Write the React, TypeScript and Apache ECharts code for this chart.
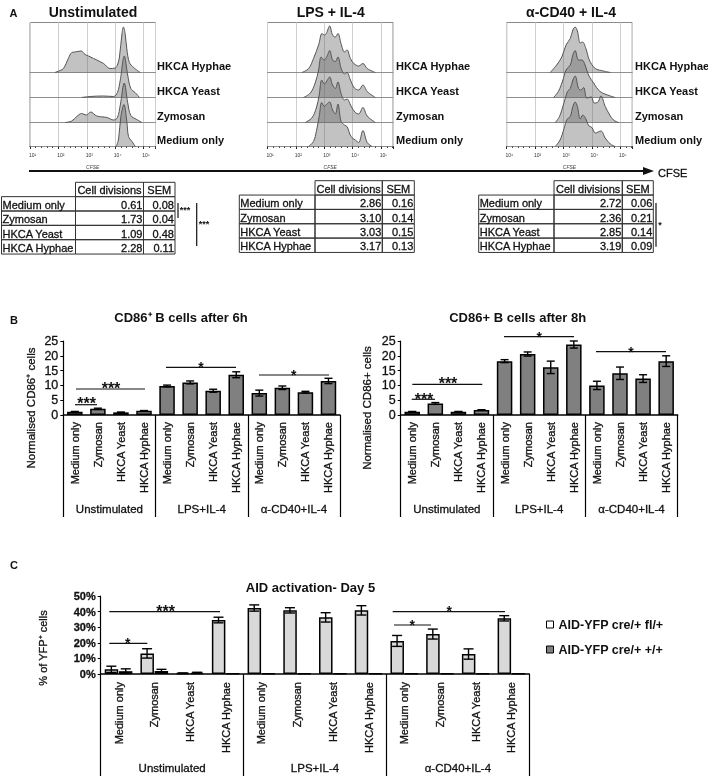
import React, { useEffect, useRef } from "react";
import * as echarts from "echarts";

const FONT = '"Liberation Sans", Arial, sans-serif';

// ---------- Panel A : CFSE histograms, [log10 CFSE, % of max] ----------
const rowNames = ["HKCA Hyphae", "HKCA Yeast", "Zymosan", "Medium only"];
const decadeLabels: Record<number, string> = { 1: "10¹", 2: "10²", 3: "10³", 4: "10⁴", 5: "10⁵" };

const unstimHyphae = [[1.88,0],[2.06,4],[2.18,8],[2.35,28],[2.47,40],[2.59,41],[2.8,43],[2.94,36],[3.06,33],[3.24,28],[3.35,25],[3.59,18],[3.82,8],[4,9],[4.08,15],[4.15,31],[4.24,78],[4.29,91],[4.35,78],[4.41,47],[4.5,20],[4.65,10],[4.88,0]];
const unstimYeast = [[2.82,0],[3.12,2],[3.59,3],[3.94,2],[4.08,10],[4.18,35],[4.32,83],[4.44,45],[4.55,18],[4.7,10],[4.86,0]];
const unstimZymosan = [[2.24,0],[2.47,3],[2.65,12],[2.82,18],[2.98,15],[3.14,21],[3.35,13],[3.71,10],[3.94,5],[4.08,10],[4.18,35],[4.32,79],[4.44,40],[4.55,14],[4.76,6],[4.94,0]];
const unstimMedium = [[4.04,0],[4.12,15],[4.2,60],[4.31,84],[4.41,50],[4.47,20],[4.59,10],[4.71,0]];

const lpsHyphae = [[2.21,0],[2.45,8],[2.62,28],[2.8,55],[2.92,78],[3,75],[3.07,78],[3.19,93],[3.29,75],[3.39,71],[3.48,78],[3.59,58],[3.71,41],[3.8,45],[3.92,28],[4.04,18],[4.21,13],[4.36,18],[4.51,8],[4.8,0]];
const lpsYeast = [[2.27,0],[2.51,9],[2.68,29],[2.8,55],[2.89,81],[3,75],[3.09,82],[3.19,94],[3.29,75],[3.39,72],[3.48,81],[3.59,59],[3.71,47],[3.8,50],[3.92,35],[4.06,19],[4.21,15],[4.36,25],[4.51,12],[4.8,0]];
const lpsZymosan = [[2.33,0],[2.56,9],[2.72,29],[2.82,55],[2.91,85],[3,77],[3.09,83],[3.19,91],[3.29,75],[3.39,68],[3.48,81],[3.59,58],[3.71,45],[3.8,47],[3.94,33],[4.09,20],[4.21,17],[4.36,30],[4.51,13],[4.8,0]];
const lpsMedium = [[2.45,0],[2.62,10],[2.72,30],[2.82,60],[2.91,88],[3,80],[3.09,85],[3.19,89],[3.29,73],[3.39,65],[3.48,85],[3.59,50],[3.71,43],[3.8,40],[3.94,20],[4.09,13],[4.21,8],[4.36,32],[4.51,8],[4.68,0]];

const cd40Hyphae = [[2.53,0],[2.76,15],[2.94,31],[3.09,55],[3.24,68],[3.33,85],[3.41,91],[3.49,83],[3.59,59],[3.67,61],[3.79,48],[3.91,25],[4.12,8],[4.41,3],[4.65,0]];
const cd40Yeast = [[2.65,0],[2.82,12],[2.98,35],[3.09,55],[3.24,65],[3.33,85],[3.41,94],[3.53,75],[3.65,75],[3.76,65],[3.88,45],[4.06,29],[4.29,12],[4.65,3],[4.82,0]];
const cd40Zymosan = [[2.71,0],[2.86,12],[3.02,40],[3.14,62],[3.24,68],[3.33,85],[3.41,93],[3.53,68],[3.61,65],[3.71,70],[3.82,49],[3.98,51],[4.08,39],[4.2,40],[4.32,53],[4.47,32],[4.63,15],[4.76,5],[4.94,0]];
const cd40Medium = [[2.71,0],[2.88,13],[3.02,36],[3.12,54],[3.24,60],[3.33,80],[3.41,89],[3.49,80],[3.59,55],[3.68,63],[3.79,55],[3.88,42],[4,38],[4.12,27],[4.32,31],[4.47,17],[4.65,5],[4.82,0]];

// ---------- Panel A : tables ----------
const tableHeader = ["Cell divisions", "SEM"];
const unstimDivisions = ["0.61", "1.73", "1.09", "2.28"];
const unstimSem = ["0.08", "0.04", "0.48", "0.11"];
const lpsDivisions = ["2.86", "3.10", "3.03", "3.17"];
const lpsSem = ["0.16", "0.14", "0.15", "0.13"];
const cd40Divisions = ["2.72", "2.36", "2.85", "3.19"];
const cd40Sem = ["0.06", "0.21", "0.14", "0.09"];
const tableRows = ["Medium only", "Zymosan", "HKCA Yeast", "HKCA Hyphae"];

// ---------- Panels B, C : bars ----------
const stimuli = ["Medium only", "Zymosan", "HKCA Yeast", "HKCA Hyphae"];
const categories = [...stimuli, ...stimuli, ...stimuli];
const groups = ["Unstimulated", "LPS+IL-4", "α-CD40+IL-4"];

const cd86h6 = [1.1, 2.1, 0.9, 1.4, 9.8, 11, 8.2, 13.6, 7.4, 9.2, 7.7, 11.5];
const cd86h6Err = [0.1, 0.2, 0.1, 0.1, 0.3, 0.5, 0.5, 1.0, 1.0, 0.6, 0.3, 0.9];
const cd86h8 = [1.1, 3.9, 1.1, 1.7, 18.2, 20.6, 16.1, 23.8, 10, 14.1, 12.3, 18.2];
const cd86h8Err = [0.1, 0.3, 0.1, 0.1, 0.5, 0.7, 2.1, 1.2, 1.4, 2.1, 1.3, 1.8];

const aidFl = [3, 13.2, 0.5, 34.6, 42.3, 40.8, 36.3, 40.8, 21.2, 25.6, 12.8, 35.7];
const aidFlErr = [2, 3, 0.2, 1.8, 2, 1.7, 3, 3, 3.5, 3.2, 3.3, 1.7];
const aidWt = [1.8, 2, 0.8, 0.2, 0.3, 0.3, 0.3, 0.3, 0.3, 0.3, 0.3, 0.3];
const aidWtErr = [1.5, 1, 0.3, 0, 0, 0, 0, 0, 0, 0, 0, 0];
const legendNames = ["AID-YFP cre/+ fl/+", "AID-YFP cre/+ +/+"];

export default function App() {
  const ref = useRef<HTMLDivElement>(null);

  useEffect(() => {
    document.body.style.margin = "0";
    const chart = echarts.init(ref.current!, null, { renderer: "svg" });

    const grid: any[] = [];
    const xAxis: any[] = [];
    const yAxis: any[] = [];
    const series: any[] = [];
    const graphic: any[] = [];
    const title: any[] = [];

    const text = (x: number, y: number, t: string, size: number, opts: any = {}) =>
      graphic.push({
        type: "text",
        x,
        y,
        rotation: opts.rotation || 0,
        silent: true,
        z: 20,
        style: {
          text: t,
          fill: opts.fill || "#111",
          stroke: opts.fill || "#111",
          lineWidth: opts.stroke ?? 0.3,
          align: opts.align || "left",
          verticalAlign: "middle",
          font: `${opts.style || "normal"} ${opts.weight || "normal"} ${size}px ${FONT}`,
        },
      });
    const line = (x1: number, y1: number, x2: number, y2: number, w = 1.2, c = "#111") =>
      graphic.push({
        type: "line",
        silent: true,
        z: 20,
        shape: { x1, y1, x2, y2 },
        style: { stroke: c, lineWidth: w },
      });
    const sig = (x0: number, x1: number, y: number, cx: number, cy: number, stars: string) => {
      line(x0, y, x1, y, 1.2);
      text(cx, cy, stars, stars.length > 1 ? 16 : 14, { align: "center", weight: "bold", stroke: 0 });
    };

    // ---- histogram panels ----
    const XMIN = 1, XMAX = 5.42, W = 125.5, TOP = 22.5, RH = 50;
    const baselines = [72.5, 97.5, 122.5, 146.5];
    const addHist = (left: number, rows: number[][][], cx: number, name: string, labelX: number) => {
      title.push({
        text: name,
        left: cx,
        top: 5,
        padding: 0,
        textAlign: "center",
        textStyle: { fontFamily: FONT, fontSize: 14, fontWeight: "bold", color: "#111" },
      });
      // frame
      const fi = grid.length;
      grid.push({ left, top: TOP, width: W, height: baselines[3] - TOP, show: true, borderColor: "#8a8a8a", borderWidth: 1, backgroundColor: "transparent" });
      xAxis.push({
        type: "value", gridIndex: fi, min: XMIN, max: XMAX, interval: 1, name: "CFSE", nameLocation: "middle", nameGap: 18,
        nameTextStyle: { fontFamily: FONT, fontSize: 5, fontStyle: "italic", color: "#444" },
        axisLine: { show: true, lineStyle: { color: "#222", width: 1 } },
        axisTick: { show: true, length: 2.5, lineStyle: { color: "#222" } },
        minorTick: { show: true, splitNumber: 5, length: 1.5, lineStyle: { color: "#444" } },
        splitLine: { show: true, lineStyle: { color: "#cfcfcf", width: 1 } },
        axisLabel: {
          fontFamily: FONT, fontSize: 5, color: "#333", margin: 6, padding: [0, 0, 0, 5], hideOverlap: false,
          formatter: (v: number) => decadeLabels[v] || "",
        },
      });
      yAxis.push({ type: "value", gridIndex: fi, min: 0, max: 1, show: false });
      // rows
      rows.forEach((data, r) => {
        const gi = grid.length;
        grid.push({ left, top: baselines[r] - RH, width: W, height: RH });
        xAxis.push({
          type: "value", gridIndex: gi, min: XMIN, max: XMAX, interval: 1,
          axisLine: { show: true, onZero: false, lineStyle: { color: "#8f8f8f", width: 1 } },
          axisTick: { show: false }, axisLabel: { show: false }, splitLine: { show: false },
        });
        yAxis.push({ type: "value", gridIndex: gi, min: 0, max: 100, show: false });
        series.push({
          type: "line", xAxisIndex: gi, yAxisIndex: gi, data, smooth: 0.35, showSymbol: false, symbol: "none",
          z: 3 + r,
          lineStyle: { color: "#555", width: 1 },
          areaStyle: { color: "rgba(96,96,96,0.55)" },
        });
        text(labelX, baselines[r] - 7, rowNames[r], 11, { weight: "bold", stroke: 0 });
      });
    };
    addHist(30, [unstimHyphae, unstimYeast, unstimZymosan, unstimMedium], 93, "Unstimulated", 157);
    addHist(267.5, [lpsHyphae, lpsYeast, lpsZymosan, lpsMedium], 330.7, "LPS + IL-4", 396);
    addHist(506.7, [cd40Hyphae, cd40Yeast, cd40Zymosan, cd40Medium], 571, "α-CD40 + IL-4", 635);

    // ---- arrow ----
    line(29, 171, 645, 171, 1.8, "#111");
    graphic.push({ type: "polygon", silent: true, shape: { points: [[643, 167], [654, 171], [643, 175]] }, style: { fill: "#111" } });
    text(658, 173, "CFSE", 11);

    // ---- tables ----
    const addTable = (cols: number[], y0: number, div: string[], sem: string[]) => {
      const rh = 14.35;
      const cell = (x: number, y: number, w: number) =>
        graphic.push({ type: "rect", silent: true, z: 15, shape: { x, y, width: w, height: rh }, style: { fill: "none", stroke: "#333", lineWidth: 1 } });
      cell(cols[1], y0, cols[2] - cols[1]);
      cell(cols[2], y0, cols[3] - cols[2]);
      text((cols[1] + cols[2]) / 2, y0 + rh / 2 + 1, tableHeader[0], 11, { align: "center" });
      text((cols[2] + cols[3]) / 2, y0 + rh / 2 + 1, tableHeader[1], 11, { align: "center" });
      tableRows.forEach((name, i) => {
        const y = y0 + rh * (i + 1);
        cell(cols[0], y, cols[1] - cols[0]);
        cell(cols[1], y, cols[2] - cols[1]);
        cell(cols[2], y, cols[3] - cols[2]);
        text(cols[0] + 1, y + rh / 2 + 1, name, 11);
        text(cols[2] - 1, y + rh / 2 + 1, div[i], 11, { align: "right" });
        text(cols[3] - 1, y + rh / 2 + 1, sem[i], 11, { align: "right" });
      });
    };
    addTable([1.5, 75.5, 143.5, 175], 182.3, unstimDivisions, unstimSem);
    addTable([239.3, 315, 382.3, 414.3], 180.7, lpsDivisions, lpsSem);
    addTable([478.7, 554, 622.3, 653.3], 180.7, cd40Divisions, cd40Sem);

    line(178, 203, 178, 218);
    text(185, 210, "***", 9, { align: "center", weight: "bold", stroke: 0 });
    line(196.7, 203, 196.7, 246);
    text(204, 224, "***", 9, { align: "center", weight: "bold", stroke: 0 });
    line(656, 203, 656, 246.7);
    text(660, 224.5, "*", 9, { align: "center", weight: "bold", stroke: 0 });

    // ---- bar panels ----
    const axisText = { fontFamily: FONT, color: "#111", textBorderColor: "#111", textBorderWidth: 0.3 };
    const errorSeries = (gi: number, vals: number[], errs: number[], cap: number, offset: number) => ({
      type: "custom",
      xAxisIndex: gi,
      yAxisIndex: gi,
      z: 10,
      silent: true,
      encode: { x: 0, y: 1 },
      data: vals.map((v, i) => [i, v, errs[i]]),
      renderItem: (_: any, api: any) => {
        const e = api.value(2);
        if (!e) return { type: "group", children: [] };
        const hi = api.coord([api.value(0), api.value(1) + e]);
        const lo = api.coord([api.value(0), api.value(1) - e]);
        const x = hi[0] + offset;
        const st = { stroke: "#000", lineWidth: 1.4 };
        return {
          type: "group",
          children: [
            { type: "line", shape: { x1: x, y1: hi[1], x2: x, y2: lo[1] }, style: st },
            { type: "line", shape: { x1: x - cap, y1: hi[1], x2: x + cap, y2: hi[1] }, style: st },
            { type: "line", shape: { x1: x - cap, y1: lo[1], x2: x + cap, y2: lo[1] }, style: st },
          ],
        };
      },
    });

    const addBarGrid = (left: number, right: number, top: number, bottom: number, tail: number, yMax: number, interval: number, pct: boolean, labelMargin: number, groupMargin: number, tickSize: number) => {
      const gi = grid.length;
      grid.push({ left, top, width: right - left, height: bottom - top });
      xAxis.push({
        type: "category", gridIndex: gi, data: categories,
        axisLine: { show: true, onZero: false, lineStyle: { color: "#000", width: 1.5 } },
        axisTick: { show: false },
        axisLabel: { ...axisText, fontSize: 11, rotate: 90, interval: 0, margin: labelMargin, hideOverlap: false },
        splitLine: { show: false },
      });
      yAxis.push({
        type: "value", gridIndex: gi, min: 0, max: yMax, interval,
        axisLine: { show: true, lineStyle: { color: "#000", width: 1.2 } },
        axisTick: { show: true, length: 3, lineStyle: { color: "#000", width: 1 } },
        axisLabel: { ...axisText, fontSize: tickSize, margin: 5, fontWeight: pct ? "bold" : "normal", formatter: pct ? "{value}%" : "{value}" },
        splitLine: { show: false },
      });
      // group axis (second x axis)
      xAxis.push({
        type: "category", gridIndex: gi, data: groups, position: "bottom",
        axisLine: { show: false },
        axisTick: { show: true, length: tail, lineStyle: { color: "#000", width: 1.2 } },
        axisLabel: { ...axisText, fontSize: 11.5, interval: 0, margin: groupMargin, hideOverlap: false },
        splitLine: { show: false },
      });
      // every x axis has a y partner so that indices stay aligned
      yAxis.push({ type: "value", gridIndex: gi, min: 0, max: yMax, show: false });
    };

    const titleStyle = { fontFamily: FONT, fontSize: 13, fontWeight: "bold", color: "#111" };

    addBarGrid(63.3, 340, 341, 415, 102, 25, 5, false, 7, 88, 12.5);
    series.push({
      type: "bar", xAxisIndex: xAxis.length - 2, yAxisIndex: xAxis.length - 2, data: cd86h6, barWidth: 15.5,
      itemStyle: { color: "#808080", borderColor: "#000", borderWidth: 1.5 },
    });
    series.push(errorSeries(xAxis.length - 2, cd86h6, cd86h6Err, 4, 0));
    title.push({ text: "CD86⁺ B cells after 6h", left: 181, top: 310.5, padding: 0, textAlign: "center", textStyle: titleStyle });
    text(30.7, 408, "Normalised CD86⁺ cells", 11.5, { rotation: Math.PI / 2, align: "center" });
    sig(76, 145, 389, 111, 388, "***");
    sig(75, 97, 404.7, 86.7, 403.5, "***");
    sig(166, 236, 367.3, 201, 367, "*");
    sig(259, 329, 375, 293.7, 375, "*");

    addBarGrid(400.7, 677.7, 341, 415, 102, 25, 5, false, 7, 88, 12.5);
    series.push({
      type: "bar", xAxisIndex: xAxis.length - 2, yAxisIndex: xAxis.length - 2, data: cd86h8, barWidth: 15.5,
      itemStyle: { color: "#808080", borderColor: "#000", borderWidth: 1.5 },
    });
    series.push(errorSeries(xAxis.length - 2, cd86h8, cd86h8Err, 4, 0));
    title.push({ text: "CD86+ B cells after 8h", left: 517.7, top: 310.5, padding: 0, textAlign: "center", textStyle: titleStyle });
    text(367.3, 408, "Normalised CD86+ cells", 11.5, { rotation: Math.PI / 2, align: "center" });
    sig(412.3, 482.3, 384.3, 448, 383.5, "***");
    sig(411.7, 435, 399.3, 424, 399, "***");
    sig(504, 574, 336.7, 539.3, 336.5, "*");
    sig(596, 666, 351.7, 631, 351.5, "*");

    addBarGrid(100.7, 529.3, 596, 674, 102, 50, 10, true, 8, 88, 11);
    const ci = xAxis.length - 2;
    series.push({
      name: legendNames[0], type: "bar", xAxisIndex: ci, yAxisIndex: ci, data: aidFl, barWidth: 13.5, barGap: "5%",
      itemStyle: { color: "#d9d9d9", borderColor: "#000", borderWidth: 1.5 },
    });
    series.push({
      name: legendNames[1], type: "bar", xAxisIndex: ci, yAxisIndex: ci, data: aidWt, barWidth: 13.5, barGap: "5%",
      itemStyle: { color: "#808080", borderColor: "#000", borderWidth: 1.5 },
    });
    series.push(errorSeries(ci, aidFl, aidFlErr, 5, -7.2));
    series.push(errorSeries(ci, aidWt, aidWtErr, 5, 7.2));
    title.push({ text: "AID activation- Day 5", left: 310.5, top: 580.5, padding: 0, textAlign: "center", textStyle: titleStyle });
    text(43.3, 648, "% of YFP⁺ cells", 11, { rotation: Math.PI / 2, align: "center" });
    sig(109.3, 220, 611.7, 165.7, 611, "***");
    sig(109.3, 147.3, 643.3, 127.7, 643, "*");
    sig(392.7, 505, 611.7, 449.3, 611, "*");
    sig(394, 431, 625, 412.3, 625, "*");

    // panel letters
    text(9.5, 12.5, "A", 11, { weight: "bold", stroke: 0 });
    text(10, 320, "B", 11, { weight: "bold", stroke: 0 });
    text(10, 565, "C", 11, { weight: "bold", stroke: 0 });

    chart.setOption({
      animation: false,
      backgroundColor: "#ffffff",
      title,
      grid,
      xAxis,
      yAxis,
      series,
      graphic,
      legend: {
        data: [
          { name: legendNames[0], itemStyle: { color: "#ffffff", borderColor: "#000", borderWidth: 1 } },
          { name: legendNames[1], itemStyle: { color: "#808080", borderColor: "#000", borderWidth: 1 } },
        ],
        orient: "vertical",
        left: 546,
        top: 618,
        padding: 0,
        itemGap: 12,
        itemWidth: 7,
        itemHeight: 7,
        selectedMode: false,
        icon: "rect",
        textStyle: { fontFamily: FONT, fontSize: 12.5, fontWeight: "bold", color: "#111" },
      },
    });
    return () => chart.dispose();
  }, []);

  return <div ref={ref} style={{ position: "fixed", left: 0, top: 0, width: 708, height: 776, filter: "blur(0.35px)" }} />;
}
